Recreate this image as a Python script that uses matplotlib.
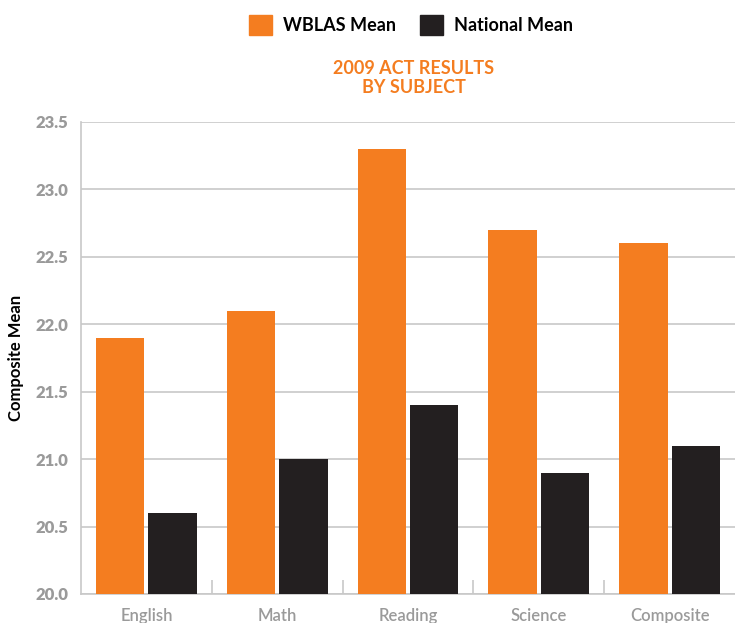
import numpy as np
import matplotlib.pyplot as plt
from matplotlib.patches import Patch

plt.rcParams['font.family'] = ['Lato', 'DejaVu Sans']

# ACT 2009 results
subjects = ['English', 'Math', 'Reading', 'Science', 'Composite']
wblas_mean = [21.9, 22.1, 23.3, 22.7, 22.6]
national_mean = [20.6, 21.0, 21.4, 20.9, 21.1]

orange = '#F47D20'
dark = '#231F20'
grey = '#9A9A9A'

fig = plt.figure(figsize=(7.35, 6.23), dpi=100)
ax = fig.add_axes([81/735, 29/623, 654/735, 472/623])

x = np.arange(len(subjects))
w = 0.37
ax.bar(x - 0.2, wblas_mean, w, color=orange, zorder=3)
ax.bar(x + 0.2, national_mean, w, color=dark, zorder=3)

ax.set_ylim(20.0, 23.5)
ax.set_xlim(-0.5, len(subjects) - 0.5)
ax.set_yticks(np.arange(20.0, 23.51, 0.5))
ax.yaxis.set_major_formatter(plt.FormatStrFormatter('%.1f'))
ax.grid(axis='y', color='#C8C8C8', linewidth=1.2, zorder=0)

ax.set_xticks(x)
ax.set_xticklabels(subjects)
ax.set_xticks(np.arange(0.5, len(subjects) - 0.5, 1), minor=True)
ax.tick_params(axis='x', which='major', length=0, pad=10)
ax.tick_params(axis='x', which='minor', direction='in', length=10, color='#C8C8C8', width=1.2)
ax.tick_params(axis='y', length=0, pad=9)
for lab in ax.get_xticklabels():
    lab.set_color(grey)
    lab.set_fontsize(12)
    lab.set_fontweight('semibold')
for lab in ax.get_yticklabels():
    lab.set_color(grey)
    lab.set_fontweight('heavy')
    lab.set_fontsize(12)

for s in ['top', 'right']:
    ax.spines[s].set_visible(False)
for s in ['left', 'bottom']:
    ax.spines[s].set_color('#C8C8C8')
    ax.spines[s].set_linewidth(1.2)

ax.set_ylabel('Composite Mean', fontsize=12, fontweight='bold', color='black')
ax.yaxis.set_label_coords(-57/654, 0.5)

fig.text(414/735, 1 - 78/623, '2009 ACT RESULTS\nBY SUBJECT', ha='center', va='center',
         color=orange, fontsize=13, fontweight='bold', linespacing=1.15)

handles = [Patch(color=orange, label='WBLAS Mean'), Patch(color=dark, label='National Mean')]
fig.legend(handles=handles, loc='center', bbox_to_anchor=(411/735, 1 - 25/623), ncol=2,
           frameon=False, handlelength=1.3, handleheight=1.3,
           handletextpad=0.6, columnspacing=1.3, prop={'weight': 'bold', 'size': 13})

fig.savefig('out.png', dpi=100)
